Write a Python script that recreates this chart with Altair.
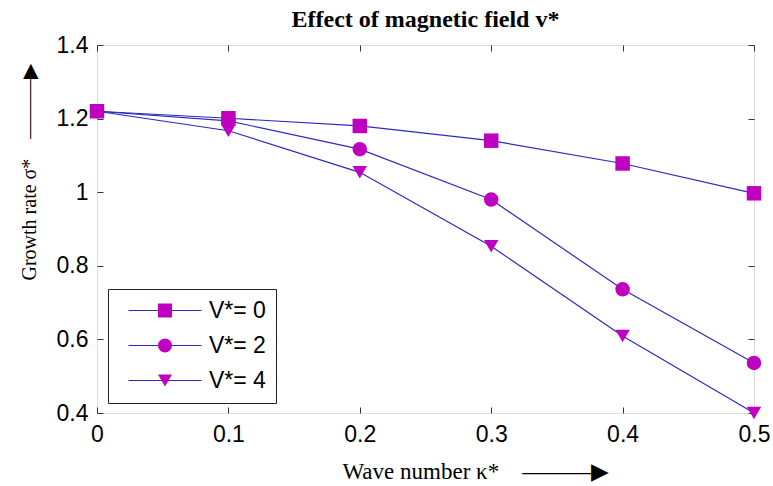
import altair as alt
import pandas as pd

# ---- data ----
wave_number = [0.0, 0.1, 0.2, 0.3, 0.4, 0.5]
growth_v0 = [1.22, 1.201, 1.18, 1.14, 1.078, 0.997]
growth_v2 = [1.22, 1.194, 1.117, 0.98, 0.736, 0.536]
growth_v4 = [1.22, 1.167, 1.054, 0.853, 0.609, 0.40]
series_names = ["V*= 0", "V*= 2", "V*= 4"]
x_ticks = [0, 0.1, 0.2, 0.3, 0.4, 0.5]
y_ticks = [0.4, 0.6, 0.8, 1.0, 1.2, 1.4]

rows = []
for name, vals in zip(series_names, [growth_v0, growth_v2, growth_v4]):
    for k, g in zip(wave_number, vals):
        rows.append({"k": k, "g": g, "series": name, "series_s": name})
df = pd.DataFrame(rows)

LINE = "#2b2bc0"
MARK = "#c000c0"
TICK = "#333333"
SANS = "Liberation Sans"
SERIF = "Liberation Serif"

xscale = alt.Scale(domain=[0, 0.5], nice=False, zero=False)
yscale = alt.Scale(domain=[0.4, 1.4], nice=False, zero=False)

# lines: carry the top / right inward tick axes and the line legend
lines = alt.Chart(df).mark_line(strokeWidth=1.2).encode(
    x=alt.X("k:Q", scale=xscale, axis=alt.Axis(
        orient="top", values=x_ticks, labels=False, domain=False, grid=False,
        ticks=True, tickSize=6, offset=-6, tickColor=TICK, title=None)),
    y=alt.Y("g:Q", scale=yscale, axis=alt.Axis(
        orient="right", values=y_ticks, labels=False, domain=False, grid=False,
        ticks=True, tickSize=6, offset=-6, tickColor=TICK, title=None)),
    color=alt.Color("series:N", sort=series_names,
                    scale=alt.Scale(range=[LINE, LINE, LINE]),
                    legend=alt.Legend(
                        orient="none", legendX=11, legendY=244, title=None,
                        symbolType="M-0.15,0H10.3", symbolSize=196, symbolStrokeWidth=1.2,
                        labelFont=SANS, labelFontSize=23, labelColor="black",
                        labelOffset=68, padding=10, rowPadding=11,
                        strokeColor="#222222")),
    detail="series:N",
)

# markers: carry the bottom / left labelled axes and the marker legend
points = alt.Chart(df).mark_point(filled=True, size=210, opacity=1, color=MARK).encode(
    x=alt.X("k:Q", scale=xscale, axis=alt.Axis(
        orient="bottom", values=x_ticks, format=".1~f", domain=False, grid=False,
        ticks=True, tickSize=6, offset=-6, tickColor=TICK, labelFlush=False,
        labelFont=SANS, labelFontSize=23, labelColor="black", labelPadding=10,
        title="Wave number \u03ba*\u2003\u2014\u2014\u2014\u25b6",
        titleFont=SERIF, titleFontSize=23, titleFontWeight="normal", titleColor="black",
        titleAlign="left", titleBaseline="alphabetic", titleX=245, titleY=71)),
    y=alt.Y("g:Q", scale=yscale, axis=alt.Axis(
        orient="left", values=y_ticks, format=".1~f", domain=False, grid=False,
        ticks=True, tickSize=6, offset=-6, tickColor=TICK, labelFlush=False,
        labelFont=SANS, labelFontSize=23, labelColor="black", labelPadding=9,
        title="Growth rate \u03c3*\u2003\u2014\u2014\u2014\u25b6",
        titleFont=SERIF, titleFontSize=20, titleFontWeight="normal", titleColor="black",
        titleAngle=270, titleAlign="left", titleBaseline="alphabetic",
        titleX=-68, titleY=235)),
    shape=alt.Shape("series_s:N", sort=series_names,
                    scale=alt.Scale(range=["square", "circle", "triangle-down"]),
                    legend=alt.Legend(
                        orient="none", legendX=46.5, legendY=244, title=None,
                        symbolSize=196, symbolFillColor=MARK, symbolStrokeWidth=0,
                        symbolOpacity=1, labelExpr="''",
                        labelFont=SANS, labelFontSize=23,
                        labelOffset=68, padding=10, rowPadding=11)),
)

chart = alt.layer(lines, points).properties(
    width=657,
    height=368,
    title=alt.TitleParams(
        "Effect of magnetic field v*", font=SERIF, fontSize=24, fontWeight="bold",
        color="black", anchor="middle", baseline="alphabetic", offset=-17,
        frame="group"),
    autosize=alt.AutoSizeParams(type="none"),
    padding={"left": 97, "top": 45, "right": 19, "bottom": 73},
).configure_view(stroke=TICK, strokeWidth=1.2).configure(background="white")

chart.save("out.html", embed_options={"renderer": "svg", "actions": False})
